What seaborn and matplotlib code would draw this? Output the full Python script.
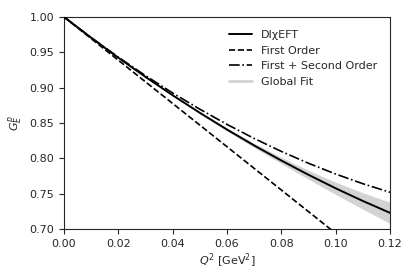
import matplotlib
matplotlib.use("Agg")
import matplotlib.pyplot as plt
import seaborn as sns
import pandas as pd

q2 = [0.00, 0.01, 0.02, 0.03, 0.04, 0.05, 0.06, 0.07, 0.08, 0.09, 0.10, 0.11, 0.12]
dichieft = [1.0, 0.9706, 0.9423, 0.9152, 0.8892, 0.8644, 0.8407, 0.8182, 0.7969, 0.7767, 0.7576, 0.7397, 0.7229]
first_order = [1.0, 0.9694, 0.9388, 0.9082, 0.8776, 0.8470, 0.8164, 0.7858, 0.7552, 0.7246, 0.6940, 0.6634, 0.6328]
first_second = [1.0, 0.9708, 0.9431, 0.9170, 0.8924, 0.8695, 0.8480, 0.8281, 0.8098, 0.7930, 0.7778, 0.7641, 0.7520]
fit_center = [1.0, 0.9706, 0.9423, 0.9152, 0.8892, 0.8645, 0.8407, 0.8182, 0.7969, 0.7767, 0.7576, 0.7397, 0.7229]
fit_upper = [1.0, 0.9707, 0.9424, 0.9155, 0.8899, 0.8657, 0.8428, 0.8212, 0.8013, 0.7830, 0.7663, 0.7513, 0.7379]
fit_lower = [1.0, 0.9705, 0.9422, 0.9149, 0.8885, 0.8633, 0.8386, 0.8152, 0.7925, 0.7704, 0.7489, 0.7281, 0.7079]

sns.set_style("ticks")
plt.rcParams['font.family'] = ['DejaVu Sans']

fig, ax = plt.subplots(figsize=(4.15, 2.77), dpi=100)
fig.subplots_adjust(left=0.154, right=0.94, top=0.939, bottom=0.173)

df = pd.DataFrame({"q2": q2, "dichieft": dichieft, "first": first_order,
                   "fs": first_second, "fit": fit_center})

ax.fill_between(q2, fit_lower, fit_upper, color="#d3d3d3", lw=0, zorder=1)
sns.lineplot(data=df, x="q2", y="dichieft", ax=ax, color="black", lw=1.4, label="DI\u03c7EFT", zorder=4)
sns.lineplot(data=df, x="q2", y="first", ax=ax, color="black", lw=1.2, ls="--", label="First Order", zorder=3)
sns.lineplot(data=df, x="q2", y="fs", ax=ax, color="black", lw=1.2, ls="-.", label="First + Second Order", zorder=3)
ax.plot([], [], color="#d3d3d3", lw=2, label="Global Fit")

ax.set_xlim(0, 0.12)
ax.set_ylim(0.70, 1.00)
ax.set_xticks([0.00, 0.02, 0.04, 0.06, 0.08, 0.10, 0.12])
ax.set_yticks([0.70, 0.75, 0.80, 0.85, 0.90, 0.95, 1.00])
ax.set_xlabel("$Q^2$ [GeV$^2$]", fontsize=8, labelpad=2)
ax.set_ylabel("$G_E^p$", fontsize=8, labelpad=3)
ax.tick_params(labelsize=8)
ax.legend(frameon=False, loc="upper right", fontsize=8, borderaxespad=0.8)

fig.savefig("out.png", dpi=100)
